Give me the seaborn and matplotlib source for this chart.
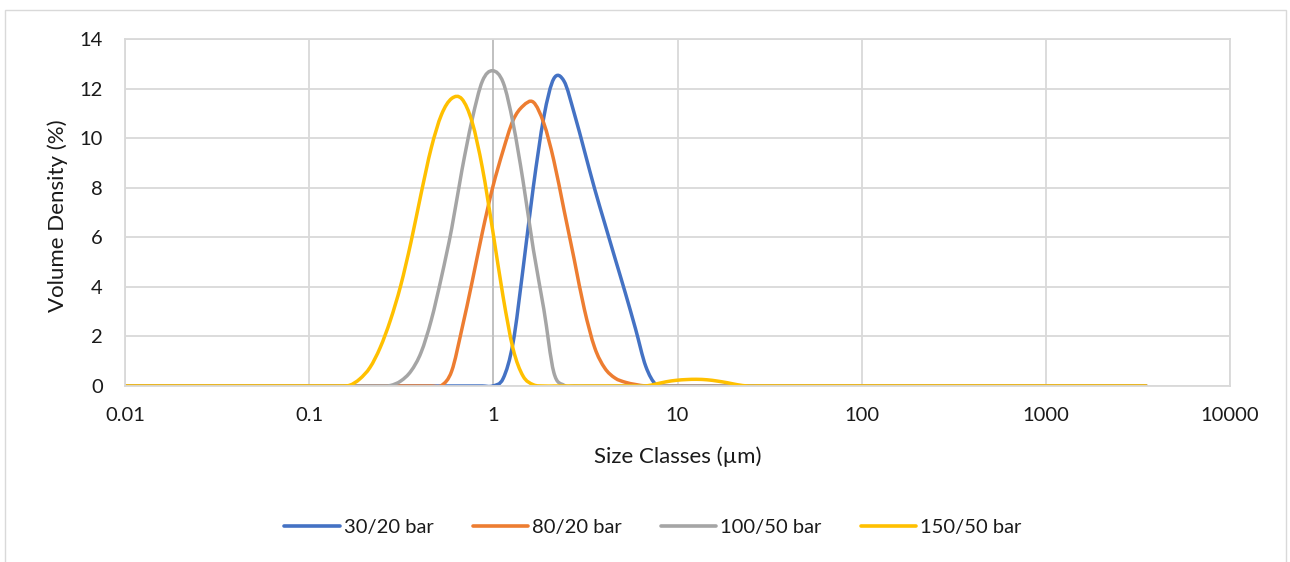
import matplotlib
matplotlib.use("Agg")
import matplotlib.pyplot as plt
from matplotlib.patches import Rectangle, PathPatch
from matplotlib.path import Path
from matplotlib.ticker import FixedLocator, FixedFormatter, NullLocator
import seaborn as sns
import pandas as pd
import numpy as np

# Laser-diffraction size classes (µm)
size_classes = [
    0.0100, 0.0114, 0.0129, 0.0147, 0.0167, 0.0189, 0.0215, 0.0244, 0.0278, 0.0315,
    0.0358, 0.0407, 0.0463, 0.0526, 0.0597, 0.0679, 0.0771, 0.0876, 0.0995, 0.113,
    0.128, 0.146, 0.166, 0.188, 0.214, 0.243, 0.276, 0.314, 0.357, 0.405,
    0.460, 0.523, 0.594, 0.675, 0.767, 0.872, 0.991, 1.13, 1.28, 1.45,
    1.65, 1.88, 2.13, 2.42, 2.75, 3.12, 3.55, 4.03, 4.58, 5.21,
    5.92, 6.72, 7.64, 8.68, 9.86, 11.2, 12.7, 14.5, 16.4, 18.7,
    21.2, 24.1, 27.4, 31.1, 35.3, 40.1, 45.6, 51.8, 58.9, 66.9,
    76.0, 86.4, 98.1, 111, 127, 144, 163, 186, 211, 240,
    272, 310, 352, 400, 454, 516, 586, 666, 756, 859,
    976, 1110, 1260, 1430, 1630, 1850, 2100, 2390, 2710, 3080,
    3500,
]

# Volume density (%) per size class for each homogenisation pressure
vd_30_20 = [
    0, 0, 0, 0, 0, 0, 0, 0, 0, 0,
    0, 0, 0, 0, 0, 0, 0, 0, 0, 0,
    0, 0, 0, 0, 0, 0, 0, 0, 0, 0,
    0, 0, 0, 0, 0, 0, 0, 0.3, 1.75, 4.73,
    8.05, 10.85, 12.4, 12.3, 11.0, 9.5, 7.95, 6.55, 5.15, 3.75,
    2.3, 0.8, 0.05, 0, 0, 0, 0, 0, 0, 0,
    0, 0, 0, 0, 0, 0, 0, 0, 0, 0,
    0, 0, 0, 0, 0, 0, 0, 0, 0, 0,
    0, 0, 0, 0, 0, 0, 0, 0, 0, 0,
    0, 0, 0, 0, 0, 0, 0, 0, 0, 0,
    0,
]
vd_80_20 = [
    0, 0, 0, 0, 0, 0, 0, 0, 0, 0,
    0, 0, 0, 0, 0, 0, 0, 0, 0, 0,
    0, 0, 0, 0, 0, 0, 0, 0, 0, 0,
    0, 0.02, 0.6, 2.3, 4.2, 6.2, 8.0, 9.5, 10.72, 11.3,
    11.45, 10.6, 9.1, 7.1, 5.1, 3.1, 1.55, 0.72, 0.32, 0.15,
    0.06, 0, 0, 0, 0, 0, 0, 0, 0, 0,
    0, 0, 0, 0, 0, 0, 0, 0, 0, 0,
    0, 0, 0, 0, 0, 0, 0, 0, 0, 0,
    0, 0, 0, 0, 0, 0, 0, 0, 0, 0,
    0, 0, 0, 0, 0, 0, 0, 0, 0, 0,
    0,
]
vd_100_50 = [
    0, 0, 0, 0, 0, 0, 0, 0, 0, 0,
    0, 0, 0, 0, 0, 0, 0, 0, 0, 0,
    0, 0, 0, 0, 0, 0, 0.02, 0.2, 0.6, 1.35,
    2.65, 4.4, 6.35, 8.7, 10.75, 12.3, 12.72, 12.25, 10.6, 8.27,
    5.5, 3.1, 0.55, 0.03, 0, 0, 0, 0, 0, 0,
    0, 0, 0, 0, 0, 0, 0, 0, 0, 0,
    0, 0, 0, 0, 0, 0, 0, 0, 0, 0,
    0, 0, 0, 0, 0, 0, 0, 0, 0, 0,
    0, 0, 0, 0, 0, 0, 0, 0, 0, 0,
    0, 0, 0, 0, 0, 0, 0, 0, 0, 0,
    0,
]
vd_150_50 = [
    0, 0, 0, 0, 0, 0, 0, 0, 0, 0,
    0, 0, 0, 0, 0, 0, 0, 0, 0, 0,
    0, 0, 0.03, 0.28, 0.75, 1.55, 2.65, 4.05, 5.8, 7.75,
    9.6, 10.95, 11.6, 11.58, 10.65, 8.8, 6.3, 3.6, 1.5, 0.4,
    0.05, 0, 0, 0, 0, 0, 0, 0, 0, 0,
    0, 0, 0.08, 0.17, 0.23, 0.26, 0.27, 0.25, 0.2, 0.13,
    0.05, 0, 0, 0, 0, 0, 0, 0, 0, 0,
    0, 0, 0, 0, 0, 0, 0, 0, 0, 0,
    0, 0, 0, 0, 0, 0, 0, 0, 0, 0,
    0, 0, 0, 0, 0, 0, 0, 0, 0, 0,
    0,
]

series_names = ["30/20 bar", "80/20 bar", "100/50 bar", "150/50 bar"]
series_values = [vd_30_20, vd_80_20, vd_100_50, vd_150_50]
series_colors = ["#4472C4", "#ED7D31", "#A5A5A5", "#FFC000"]

x_ticks = [0.01, 0.1, 1, 10, 100, 1000, 10000]
x_tick_labels = ["0.01", "0.1", "1", "10", "100", "1000", "10000"]
y_ticks = [0, 2, 4, 6, 8, 10, 12, 14]

df = pd.concat(
    [pd.DataFrame({"size": size_classes, "density": vals, "sample": name})
     for name, vals in zip(series_names, series_values)],
    ignore_index=True,
)

sns.set_style("white")
plt.rcParams["font.family"] = ["Lato", "DejaVu Sans"]

W, H = 1290, 562
fig = plt.figure(figsize=(W / 100, H / 100), dpi=100)
ax = fig.add_axes([125 / W, 1 - 386 / H, (1230 - 125) / W, (386 - 39) / H])

grid_col = "#D9D9D9"
text_col = "#1A1A1A"
line_w = 2.5

ax.set_xscale("log")
sns.lineplot(
    data=df, x="size", y="density", hue="sample",
    hue_order=series_names, palette=series_colors,
    estimator=None, sort=True, linewidth=line_w, ax=ax, legend=True,
)


def smooth_path(xs, ys):
    """Cubic Bezier through the points (Catmull-Rom tangents in log-x space)."""
    u = np.log10(np.asarray(xs, dtype=float))
    v = np.asarray(ys, dtype=float)
    n = len(u)
    verts = [(u[0], v[0])]
    codes = [Path.MOVETO]
    for i in range(n - 1):
        i0, i2 = max(i - 1, 0), min(i + 2, n - 1)
        c1 = (u[i] + (u[i + 1] - u[i0]) / 6, v[i] + (v[i + 1] - v[i0]) / 6)
        c2 = (u[i + 1] - (u[i2] - u[i]) / 6, v[i + 1] - (v[i2] - v[i]) / 6)
        verts += [c1, c2, (u[i + 1], v[i + 1])]
        codes += [Path.CURVE4] * 3
    verts = np.array(verts)
    verts[:, 0] = 10 ** verts[:, 0]
    return Path(verts, codes)


# draw each series as a smoothed curve in place of the straight segments
for k, line in enumerate(list(ax.lines)[: len(series_names)]):
    path = smooth_path(line.get_xdata(), line.get_ydata())
    ax.add_patch(PathPatch(path, fill=False, edgecolor=line.get_color(),
                           linewidth=line_w, capstyle="round",
                           joinstyle="round", zorder=2 + k * 0.01))
    line.set_visible(False)

ax.set_xlim(0.01, 10000)
ax.set_ylim(0, 14)
ax.xaxis.set_major_locator(FixedLocator(x_ticks))
ax.xaxis.set_major_formatter(FixedFormatter(x_tick_labels))
ax.xaxis.set_minor_locator(NullLocator())
ax.set_yticks(y_ticks)

ax.grid(True, which="major", color=grid_col, linewidth=1.3)
ax.set_axisbelow(True)
for side in ["left", "right", "top", "bottom"]:
    ax.spines[side].set_color(grid_col)
    ax.spines[side].set_linewidth(1.3)
# vertical value axis crossing at 1 µm
ax.axvline(1, color="#BFBFBF", linewidth=1.3, zorder=1.5)

ax.tick_params(axis="both", length=0, labelsize=14.5, colors=text_col)
ax.tick_params(axis="y", pad=16)
ax.tick_params(axis="x", pad=15)

ax.set_xlabel("Size Classes (µm)", fontsize=16, color=text_col)
ax.set_ylabel("Volume Density (%)", fontsize=16, color=text_col)
ax.xaxis.set_label_coords(0.5, (386 - 446) / (386 - 39))
ax.yaxis.set_label_coords((68 - 125) / (1230 - 125), 0.49)

handles, labels = ax.get_legend_handles_labels()
ax.get_legend().remove()
leg = fig.legend(
    handles, labels, loc="center", bbox_to_anchor=(653 / W, 1 - 527 / H),
    ncol=4, frameon=False, fontsize=14.5, handlelength=2.75,
    handletextpad=0.2, columnspacing=1.95, labelcolor=text_col,
)
for line in leg.get_lines():
    line.set_linewidth(2.6)
    line.set_visible(True)

# chart area outline
fig.patches.append(Rectangle(
    (4.5 / W, -0.2), (1285.5 - 4.5) / W, (H - 9.5) / H + 0.2,
    transform=fig.transFigure, fill=False, edgecolor=grid_col,
    linewidth=1.0, zorder=0,
))

fig.savefig("out.png", dpi=100)
